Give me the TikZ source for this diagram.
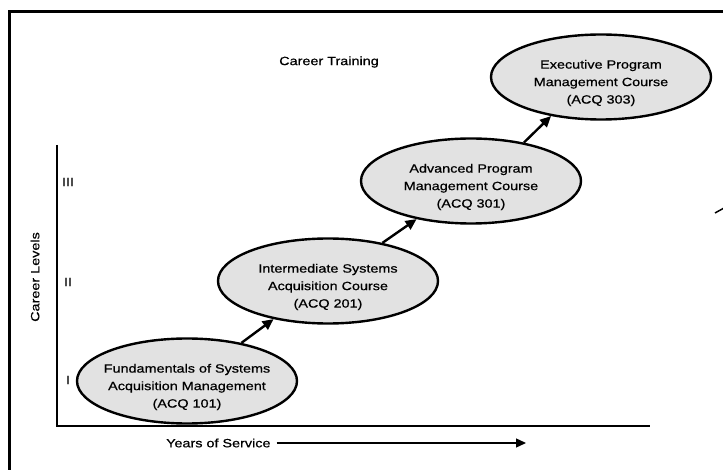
\documentclass[tikz,border=0pt]{standalone}
\usepackage{fontspec}
\newfontfamily\lab[FakeStretch=1.2,FakeBold=0.6]{Liberation Sans}
\usetikzlibrary{shapes.geometric,arrows.meta}
\definecolor{ovalgray}{RGB}{226,226,226}
\tikzset{
  course/.style={ellipse, draw, line width=2.4pt, fill=ovalgray, minimum width=220pt,
    minimum height=85pt, inner sep=0pt},
  coursetext/.style={align=center, inner sep=0pt, font=\lab\fontsize{12}{17.5}\selectfont},
  lbl/.style={font=\lab\fontsize{12}{14}\selectfont, inner sep=0pt},
  step arrow/.style={line width=2.4pt, -{Triangle[length=11pt,width=10pt]}}
}
\begin{document}
\begin{tikzpicture}[x=1pt, y=-1pt]
        \useasboundingbox (0,0) rectangle (723,470);

        % Рамка
        \draw[line width=3pt] (9,480) -- (9,12) -- (730,12);
        \draw[line width=1.5pt] (715,213) -- (724,208);

        % Оси
        \draw[line width=2.5pt] (57,145) -- (57,426) -- (650,426);

        % Подписи
        \node[lbl] (title) at (329,62) {Career Training};
        \node[lbl, rotate=90] (levels) at (35,277) {Career Levels};
        \node[lbl] (lvlI) at (68,380) {I};
        \node[lbl] (lvlII) at (68,282) {II};
        \node[lbl] (lvlIII) at (68,182) {III};
        \node[lbl, anchor=west] (years) at (166,443) {Years of Service};
        \coordinate (yearsend) at (526,443);
        \draw[line width=1.3pt, -{Triangle[length=10pt,width=9pt]}] (years.east) ++(6pt,0) -- (yearsend);

        % Курсы
        \node[course] (acq101) at (187,381) {};
        \node[course] (acq201) at (328,281) {};
        \node[course] (acq301) at (471,181) {};
        \node[course] (acq303) at (601,77) {};
        \node[coursetext] (acq101text) at ([yshift=-6pt]acq101.center) {Fundamentals of Systems\\Acquisition Management\\(ACQ 101)};
        \node[coursetext] (acq201text) at ([yshift=-6pt]acq201.center) {Intermediate Systems\\Acquisition Course\\(ACQ 201)};
        \node[coursetext] (acq301text) at ([yshift=-6pt]acq301.center) {Advanced Program\\Management Course\\(ACQ 301)};
        \node[coursetext] (acq303text) at ([yshift=-6pt]acq303.center) {Executive Program\\Management Course\\(ACQ 303)};

        % Стрелки
        \draw[step arrow] (acq101.35) -- (acq201.215);
        \draw[step arrow] (acq201.35) -- (acq301.215);
        \draw[step arrow] (acq301.36) -- (acq303.218);
\end{tikzpicture}
\end{document}
